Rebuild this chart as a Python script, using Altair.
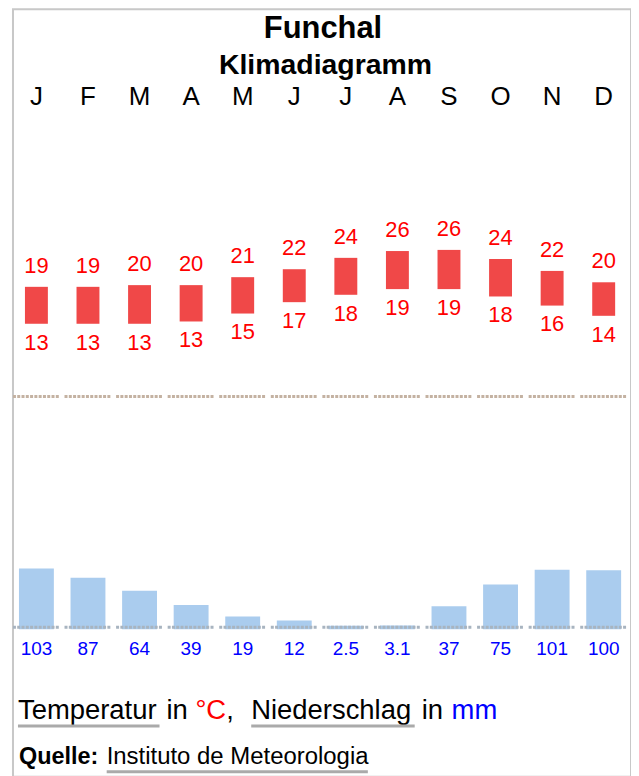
import altair as alt
import pandas as pd

months = ["J", "F", "M", "A", "M", "J", "J", "A", "S", "O", "N", "D"]
tmax = [19.3, 19.3, 19.6, 19.6, 21.0, 22.4, 24.4, 25.6, 25.8, 24.2, 22.1, 20.1]
tmin = [12.8, 12.8, 12.8, 13.2, 14.6, 16.6, 17.9, 18.9, 18.9, 17.6, 16.0, 14.2]
precip = [103, 87, 64, 39, 19, 12, 2.5, 3.1, 37, 75, 101, 100]

df = pd.DataFrame({
    "idx": list(range(12)),
    "month": months,
    "tmax": tmax,
    "tmin": tmin,
    "precip": precip,
    "plabel": [f"{v:g}" for v in precip],
})

FONT = "Liberation Sans"
xs = alt.Scale(domain=[0, 11], range=[23.5, 592.6], padding=0)
ts = alt.Scale(domain=[0, 50], range=[388.5, 103.5], padding=0)
ps = alt.Scale(domain=[0, 100], range=[620, 562.9], padding=0)
X = alt.X("idx:Q", scale=xs, axis=None)

base = alt.Chart(df)

temp_bars = base.mark_bar(size=23, color="#F04848").encode(
    x=X, y=alt.Y("tmax:Q", scale=ts, axis=None), y2="tmin:Q"
)
tmax_lbl = base.mark_text(dy=-14, baseline="alphabetic", fontSize=22, color="#ff0000", font=FONT).encode(
    x=X, y=alt.Y("tmax:Q", scale=ts, axis=None), text=alt.Text("tmax:Q", format=".0f")
)
tmin_lbl = base.mark_text(dy=26, baseline="alphabetic", fontSize=22, color="#ff0000", font=FONT).encode(
    x=X, y=alt.Y("tmin:Q", scale=ts, axis=None), text=alt.Text("tmin:Q", format=".0f")
)
zero_line = base.transform_calculate(lo="datum.idx - 0.455", hi="datum.idx + 0.455").mark_rule(
    color="#C4B2A2", strokeWidth=3, strokeDash=[3, 1.3]
).encode(x=alt.X("lo:Q", scale=xs, axis=None), x2="hi:Q", y=alt.YDatum(0, scale=ts, axis=None))

precip_bars = base.mark_bar(size=35, color="#AACCEE", y2Offset=2).encode(
    x=X, y=alt.Y("precip:Q", scale=ps, axis=None), y2=alt.Y2Datum(0)
)
precip_line = base.transform_calculate(lo="datum.idx - 0.455", hi="datum.idx + 0.455").mark_rule(
    color="#A8B4C0", strokeWidth=3, strokeDash=[3, 1.3]
).encode(x=alt.X("lo:Q", scale=xs, axis=None), x2="hi:Q", y=alt.YDatum(0, scale=ps, axis=None))
precip_lbl = base.mark_text(dy=28, baseline="alphabetic", fontSize=19, color="#0000ff", font=FONT).encode(
    x=X, y=alt.YDatum(0, scale=ps, axis=None), text="plabel:N"
)

month_lbl = base.mark_text(baseline="alphabetic", fontSize=26, color="black", font=FONT).encode(
    x=X, y=alt.value(96), text="month:N"
)


def note(text, x, y, size, color="black", weight="normal", align="left"):
    return alt.Chart(alt.Data(values=[{"t": text}])).mark_text(
        x=x, y=y, fontSize=size, color=color, fontWeight=weight, align=align,
        baseline="alphabetic", font=FONT
    ).encode(text="t:N")


def underline(x1, x2, y):
    return alt.Chart(alt.Data(values=[{"u": 1}])).mark_rule(color="#AAAAAA", strokeWidth=3).encode(
        x=alt.value(x1), x2=alt.value(x2), y=alt.value(y)
    )


notes = [
    note("Funchal", 311, 29.3, 31, weight="bold", align="center"),
    note("Klimadiagramm", 313.5, 64.7, 28.5, weight="bold", align="center"),
    note("Temperatur", 5, 712, 27.5),
    note("in", 154, 712, 27.5),
    note("°C", 183, 712, 27.5, color="#ff0000"),
    note(",", 214, 712, 27.5),
    note("Niederschlag", 239, 712, 27.5),
    note("in", 410, 712, 27.5),
    note("mm", 440, 712, 27.5, color="#0000ff"),
    note("Quelle:", 6, 757, 23.5, weight="bold"),
    note("Instituto de Meteorologia", 94, 757, 24),
    underline(5, 147, 719),
    underline(239, 403, 719),
    underline(94, 356, 765),
]

chart = alt.layer(
    temp_bars, tmax_lbl, tmin_lbl, zero_line,
    precip_bars, precip_line, precip_lbl, month_lbl, *notes
).resolve_scale(y="independent").properties(
    width=620, height=770,
    autosize=alt.AutoSizeParams(type="none"),
    padding={"left": 5, "top": 0, "right": 0, "bottom": 0},
).configure_view(stroke="#C8C8C8", strokeWidth=2)

chart.save("out.html", embed_options={"renderer": "svg", "actions": False})
